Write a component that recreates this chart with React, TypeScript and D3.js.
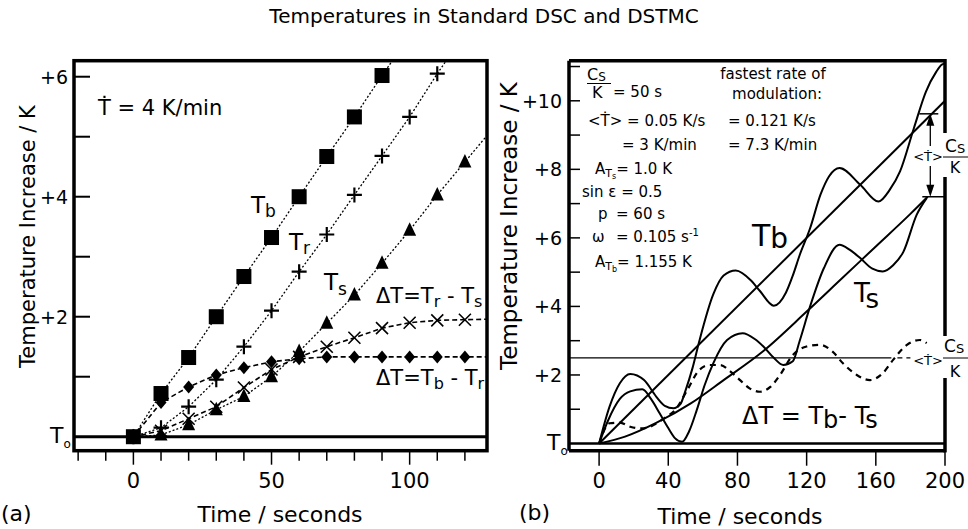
import React from "react";
import * as d3 from "d3";

const W = 968;
const H = 529;
const FONT = "'DejaVu Sans', 'Liberation Sans', Arial, sans-serif";

const titleText = "Temperatures in Standard DSC and DSTMC";

// ---------- Panel (a): standard DSC, data every 10 s ----------
const timeA = [0, 10, 20, 30, 40, 50, 60, 70, 80, 90, 100, 110, 120];
const tbA = [0, 0.72, 1.32, 2.0, 2.67, 3.32, 4.0, 4.67, 5.33, 6.02];
const trA = [0, 0.15, 0.5, 0.95, 1.5, 2.1, 2.75, 3.37, 4.03, 4.68, 5.33, 6.05];
const tsA = [0, 0.03, 0.2, 0.45, 0.67, 1.0, 1.42, 1.89, 2.36, 2.89, 3.44, 4.03, 4.58];
const dTrsA = [0, 0.1, 0.3, 0.5, 0.82, 1.12, 1.33, 1.5, 1.65, 1.81, 1.9, 1.94, 1.95];
const dTbrA = [0, 0.57, 0.83, 1.03, 1.15, 1.25, 1.3, 1.33, 1.33, 1.33, 1.33, 1.33, 1.33];
// where each connecting line runs on past its last marker (order: Tb, Tr, Ts, dTrs, dTbr)
const tailTimeA = [100, 120, 130, 130, 130];
const tailValA = [6.68, 6.72, 5.13, 1.96, 1.33];

const xMinorTicksA = [-20, -10, 0, 10, 20, 30, 40, 50, 60, 70, 80, 90, 100, 110, 120];
const xTickLabelsA = [0, 50, 100];
const yTickLabelsA = [2, 4, 6];
const yMinorTicksA = [1, 3, 5];

// ---------- Panel (b): DSTMC ----------
const tbMeanT = [0, 200];
const tbMeanV = [0, 10];
const tsMeanT = [0, 15, 33, 53, 72, 95, 120, 140, 160, 180, 190];
const tsMeanV = [0, 0.2, 0.6, 1.17, 1.85, 2.7, 3.85, 4.8, 5.75, 6.7, 7.2];
const tbWaveT = [0, 6, 12, 18, 26, 33, 38, 43, 47, 50, 54, 58, 66, 72, 79, 88, 93, 101, 108, 112, 116, 122, 128, 133, 139, 151, 161.5, 168, 174, 182, 189, 195, 198, 200];
const tbWaveV = [0, 1.07, 1.76, 2.03, 1.85, 1.37, 1.1, 1.03, 1.15, 1.55, 2.2, 3.0, 4.35, 4.9, 5.05, 4.75, 4.45, 4.02, 4.4, 4.9, 5.5, 6.28, 7.26, 7.8, 8.04, 7.55, 7.06, 7.4, 7.94, 9.2, 10.27, 10.85, 11.05, 11.1];
const tsWaveT = [0, 5, 12, 18, 25, 30, 35, 40, 44, 48, 52, 56.5, 61, 66, 74, 83, 90, 95, 101, 106.5, 112, 116, 122, 130, 139, 145, 151, 158, 164, 170, 176, 183.6, 189.4];
const tsWaveV = [0, 0.65, 1.3, 1.52, 1.58, 1.3, 0.88, 0.45, 0.15, 0.05, 0.35, 0.98, 1.7, 2.34, 3.02, 3.22, 3.05, 2.83, 2.5, 2.29, 2.4, 3.0, 4.0, 5.12, 5.8, 5.65, 5.41, 5.1, 5.02, 5.2, 5.6, 6.67, 7.16];
const dTWaveT = [0, 6, 12, 18, 24, 30, 38, 44, 51, 58, 64, 70, 76, 81.5, 87, 93, 99, 104.6, 112, 120, 127.7, 135, 141, 149, 156.6, 164, 170, 178, 185.5, 189.4];
const dTWaveV = [0, 0.59, 0.61, 0.49, 0.44, 0.5, 0.75, 0.98, 1.56, 2.15, 2.29, 2.29, 2.1, 1.85, 1.61, 1.51, 1.65, 2.0, 2.58, 2.83, 2.88, 2.68, 2.34, 2.0, 1.85, 2.05, 2.44, 2.88, 3.02, 2.93];
const steadyLagV = 2.5; // <T> * Cs/K
const steadyLagEndT = [169, 180];
const arrowT = 191.5;
const arrowTopV = 9.62;
const arrowBotV = 7.2;

const xTicksB = [0, 40, 80, 120, 160, 200];
const yTickLabelsB = [2, 4, 6, 8, 10];
const yMinorTicksB = [1, 3, 5, 7, 9, 11];

// ---------- scales ----------
const xA = d3.scaleLinear().domain([-21.5, 128]).range([74, 487]);
const yA = d3.scaleLinear().domain([-0.233, 6.267]).range([450.7, 60.7]);
const xB = d3.scaleLinear().domain([-17.4, 200]).range([569, 945]);
const yB = d3.scaleLinear().domain([-0.21, 11.17]).range([450.7, 60.7]);

type P = [number, number];
const zipA = (vals: number[]): P[] => vals.map((v, i) => [timeA[i], v]);
const zip = (ts: number[], vs: number[]): P[] => ts.map((t, i) => [t, vs[i]]);

const lineA = d3.line<P>().x((d) => xA(d[0])).y((d) => yA(d[1]));
const lineB = d3.line<P>().x((d) => xB(d[0])).y((d) => yB(d[1])).curve(d3.curveMonotoneX);
const lineBStraight = d3.line<P>().x((d) => xB(d[0])).y((d) => yB(d[1]));

const seriesA = [tbA, trA, tsA, dTrsA, dTbrA];
const dashA = ["2 2", "2 2", "2 2", "5 3", "5 3"];

function Marker({ kind, x, y }: { kind: string; x: number; y: number }) {
  if (kind === "square") return <rect x={x - 7.5} y={y - 7.5} width={15} height={15} fill="#000" />;
  if (kind === "plus")
    return <path d={`M${x - 7.5},${y}H${x + 7.5}M${x},${y - 7.5}V${y + 7.5}`} stroke="#000" strokeWidth={2.2} />;
  if (kind === "tri") return <path d={`M${x},${y - 8}L${x + 6.5},${y + 5.5}L${x - 6.5},${y + 5.5}Z`} fill="#000" />;
  if (kind === "x")
    return <path d={`M${x - 6},${y - 6}L${x + 6},${y + 6}M${x - 6},${y + 6}L${x + 6},${y - 6}`} stroke="#000" strokeWidth={1.6} />;
  return <path d={`M${x},${y - 6.5}L${x + 5.5},${y}L${x},${y + 6.5}L${x - 5.5},${y}Z`} fill="#000" />;
}
const markerKinds = ["square", "plus", "tri", "x", "diamond"];

function Sub({ x, y, main, sub, size, subSize, dy, anchor }: any) {
  return (
    <text x={x} y={y} fontSize={size} textAnchor={anchor || "start"}>
      {main}
      <tspan fontSize={subSize} dy={dy}>{sub}</tspan>
    </text>
  );
}

export default function App() {
  const a0 = xA.domain()[0], a1 = xA.domain()[1];
  const b0 = xB.domain()[0], b1 = xB.domain()[1];
  const axp = xB(arrowT);
  const aTop = yB(arrowTopV);
  const aBot = yB(arrowBotV);
  return (
    <svg width={W} height={H} style={{ position: "absolute", left: 0, top: 0, background: "#fff" }} fontFamily={FONT}>
      <rect width={W} height={H} fill="#fff" />
      <defs>
        <clipPath id="clipA">
          <rect x={xA(a0)} y={yA.range()[1]} width={xA(a1) - xA(a0)} height={yA.range()[0] - yA.range()[1]} />
        </clipPath>
        <clipPath id="clipB">
          <rect x={xB(b0)} y={yB.range()[1]} width={xB(b1) - xB(b0)} height={yB.range()[0] - yB.range()[1]} />
        </clipPath>
      </defs>

      <text x={484} y={23} fontSize={20} textAnchor="middle">{titleText}</text>

      {/* ================= Panel (a) ================= */}
      <g>
        <line x1={xA(a0)} x2={xA(a1)} y1={yA(0)} y2={yA(0)} stroke="#000" strokeWidth={3} />
        <g clipPath="url(#clipA)">
          {seriesA.map((vals, i) => (
            <path
              key={i}
              d={lineA([...zipA(vals), [tailTimeA[i], tailValA[i]]]) || ""}
              fill="none"
              stroke="#000"
              strokeWidth={i >= 3 ? 1.6 : 1.3}
              strokeDasharray={dashA[i]}
            />
          ))}
          {seriesA.map((vals, i) =>
            zipA(vals).map((d, j) => <Marker key={`${i}-${j}`} kind={markerKinds[i]} x={xA(d[0])} y={yA(d[1])} />)
          )}
        </g>
        <rect x={xA(a0)} y={yA.range()[1]} width={xA(a1) - xA(a0)} height={yA.range()[0] - yA.range()[1]} fill="none" stroke="#000" strokeWidth={3.5} />
        {[...yTickLabelsA, ...yMinorTicksA].map((v) => (
          <line key={`ya${v}`} x1={xA(a0)} x2={xA(a0) + 16} y1={yA(v)} y2={yA(v)} stroke="#000" strokeWidth={2} />
        ))}
        {yTickLabelsA.map((v) => (
          <text key={`yla${v}`} x={xA(a0) - 6} y={yA(v) + 7} fontSize={19} textAnchor="end">{`+${v}`}</text>
        ))}
        {xMinorTicksA.map((t) => (
          <line key={`xa${t}`} x1={xA(t)} x2={xA(t)} y1={yA.range()[0]} y2={yA.range()[0] + (xTickLabelsA.includes(t) ? 14 : 10)} stroke="#000" strokeWidth={1.5} />
        ))}
        {xTickLabelsA.map((t) => (
          <text key={`xla${t}`} x={xA(t)} y={488} fontSize={21} textAnchor="middle">{t}</text>
        ))}
        <Sub x={50} y={443} main="T" sub="o" size={22} subSize={12} dy={5} />
        <text x={35} y={236.5} fontSize={21} textAnchor="middle" transform="rotate(-90 35 236.5)">Temperature Increase / K</text>
        <text x={280} y={522} fontSize={22} textAnchor="middle">Time / seconds</text>
        <text x={1} y={521} fontSize={22}>(a)</text>

        <text x={98} y={115} fontSize={21}>Ṫ = 4 K/min</text>
        <Sub x={251} y={213} main="T" sub="b" size={23} subSize={17} dy={4} />
        <Sub x={289} y={250} main="T" sub="r" size={23} subSize={17} dy={4} />
        <Sub x={324} y={290} main="T" sub="s" size={23} subSize={17} dy={5} />
        <text x={376} y={303} fontSize={21}>
          ΔT=T<tspan fontSize={16} dy={4}>r</tspan>
          <tspan dy={-4}> - T</tspan>
          <tspan fontSize={16} dy={4}>s</tspan>
        </text>
        <text x={376} y={385} fontSize={21}>
          ΔT=T<tspan fontSize={16} dy={4}>b</tspan>
          <tspan dy={-4}> - T</tspan>
          <tspan fontSize={16} dy={4}>r</tspan>
        </text>
      </g>

      {/* ================= Panel (b) ================= */}
      <g>
        <line x1={xB(b0)} x2={xB(b1)} y1={yB(0)} y2={yB(0)} stroke="#000" strokeWidth={2.7} />
        <line x1={xB(b0)} x2={xB(steadyLagEndT[0])} y1={yB(steadyLagV)} y2={yB(steadyLagV)} stroke="#000" strokeWidth={1.2} />
        <line x1={xB(steadyLagEndT[0]) + 6} x2={xB(steadyLagEndT[1])} y1={yB(steadyLagV)} y2={yB(steadyLagV)} stroke="#000" strokeWidth={1.2} strokeDasharray="5 4" />
        <g clipPath="url(#clipB)">
          <path d={lineBStraight(zip(tbMeanT, tbMeanV)) || ""} fill="none" stroke="#000" strokeWidth={2} />
          <path d={lineB(zip(tsMeanT, tsMeanV)) || ""} fill="none" stroke="#000" strokeWidth={2} />
          <path d={lineB(zip(tbWaveT, tbWaveV)) || ""} fill="none" stroke="#000" strokeWidth={2} />
          <path d={lineB(zip(tsWaveT, tsWaveV)) || ""} fill="none" stroke="#000" strokeWidth={2} />
          <path d={lineB(zip(dTWaveT, dTWaveV)) || ""} fill="none" stroke="#000" strokeWidth={2.2} strokeDasharray="6 5" />
        </g>
        <line x1={xB(b0)} x2={xB(b0)} y1={yB.range()[1]} y2={yB.range()[0]} stroke="#000" strokeWidth={3.5} />
        <line x1={xB(b0)} x2={xB(b1)} y1={yB.range()[1]} y2={yB.range()[1]} stroke="#000" strokeWidth={3.5} />
        <line x1={xB(b0)} x2={xB(b1)} y1={yB.range()[0]} y2={yB.range()[0]} stroke="#000" strokeWidth={3.5} />
        <line x1={xB(b1)} x2={xB(b1)} y1={yB.range()[1] - 1.7} y2={133} stroke="#000" strokeWidth={3.5} />
        <line x1={xB(b1)} x2={xB(b1)} y1={177} y2={336} stroke="#000" strokeWidth={3.5} />
        <line x1={xB(b1)} x2={xB(b1)} y1={378} y2={yB.range()[0] + 1.7} stroke="#000" strokeWidth={3.5} />
        {[...yTickLabelsB, ...yMinorTicksB].map((v) => (
          <line key={`yb${v}`} x1={xB(b0)} x2={xB(b0) + 11} y1={yB(v)} y2={yB(v)} stroke="#000" strokeWidth={1.5} />
        ))}
        {yTickLabelsB.map((v) => (
          <text key={`ylb${v}`} x={562} y={yB(v) + 7} fontSize={19} textAnchor="end">{`+${v}`}</text>
        ))}
        {xTicksB.map((t) => (
          <line key={`xb${t}`} x1={xB(t)} x2={xB(t)} y1={yB.range()[0]} y2={yB.range()[0] + 15} stroke="#000" strokeWidth={1.5} />
        ))}
        {xTicksB.map((t) => (
          <text key={`xlb${t}`} x={xB(t)} y={488} fontSize={21} textAnchor="middle">{t}</text>
        ))}
        <Sub x={547} y={450} main="T" sub="o" size={22} subSize={12} dy={5} />
        <text x={517} y={226} fontSize={23} textAnchor="middle" transform="rotate(-90 517 226)">Temperature Increase / K</text>
        <text x={740} y={524} fontSize={22} textAnchor="middle">Time / seconds</text>
        <text x={519} y={520} fontSize={22}>(b)</text>

        <line x1={axp - 11} x2={axp + 8} y1={aTop} y2={aTop} stroke="#000" strokeWidth={1.5} />
        <line x1={axp - 8} x2={xB(b1)} y1={aBot} y2={aBot} stroke="#000" strokeWidth={1.5} />
        <path d={`M${axp},${aTop}L${axp - 4},${aTop + 12}L${axp + 4},${aTop + 12}Z`} fill="#000" />
        <path d={`M${axp},${aBot}L${axp - 4},${aBot - 12}L${axp + 4},${aBot - 12}Z`} fill="#000" />
        <line x1={axp} x2={axp} y1={aTop + 10} y2={146} stroke="#000" strokeWidth={1.3} />
        <line x1={axp} x2={axp} y1={166} y2={aBot - 10} stroke="#000" strokeWidth={1.3} />
        <text x={928} y={161} fontSize={13} textAnchor="middle">&lt;Ṫ&gt;</text>
        <Sub x={945} y={152} main="C" sub="S" size={17} subSize={13} dy={1} />
        <line x1={943} x2={968} y1={157} y2={157} stroke="#000" strokeWidth={1} />
        <text x={955} y={173} fontSize={16} textAnchor="middle">K</text>

        <text x={928} y={365} fontSize={13} textAnchor="middle">&lt;Ṫ&gt;</text>
        <Sub x={944} y={352} main="C" sub="S" size={17} subSize={13} dy={1} />
        <line x1={943} x2={968} y1={358} y2={358} stroke="#000" strokeWidth={1} />
        <text x={955} y={377} fontSize={16} textAnchor="middle">K</text>

        <g fontSize={15}>
          <Sub x={587} y={80} main="C" sub="S" size={16} subSize={12} dy={1} />
          <line x1={587} x2={611} y1={83.5} y2={83.5} stroke="#000" strokeWidth={1} />
          <text x={592} y={98} fontSize={16}>K</text>
          <text x={613} y={97}>= 50 s</text>
          <text x={588} y={125.5}>&lt;Ṫ&gt; = 0.05 K/s</text>
          <text x={622} y={149.5}>= 3 K/min</text>
          <text x={595} y={173.5}>
            A<tspan fontSize={11} dy={3}>T</tspan>
            <tspan fontSize={8} dy={2}>s</tspan>
            <tspan dy={-5}>= 1.0 K</tspan>
          </text>
          <text x={582} y={197}>sin ε = 0.5</text>
          <text x={598} y={219}>p</text>
          <text x={616} y={219}>= 60 s</text>
          <text x={592} y={242}>ω</text>
          <text x={616} y={242}>
            = 0.105 s<tspan fontSize={10} dy={-6}>-1</tspan>
          </text>
          <text x={595} y={267}>
            A<tspan fontSize={11} dy={3}>T</tspan>
            <tspan fontSize={8} dy={2}>b</tspan>
            <tspan dy={-5}>= 1.155 K</tspan>
          </text>
          <text x={773} y={79} textAnchor="middle">fastest rate of</text>
          <text x={777} y={99} textAnchor="middle">modulation:</text>
          <text x={728} y={125.5}>= 0.121 K/s</text>
          <text x={728} y={149.5}>= 7.3 K/min</text>
        </g>

        <Sub x={752} y={246} main="T" sub="b" size={30} subSize={28} dy={2} />
        <Sub x={854} y={302} main="T" sub="s" size={26} subSize={26} dy={6} />
        <text x={742} y={424} fontSize={24}>
          ΔT = T<tspan dy={4}>b</tspan>
          <tspan dy={-4}>- T</tspan>
          <tspan dy={4}>s</tspan>
        </text>
      </g>
    </svg>
  );
}
